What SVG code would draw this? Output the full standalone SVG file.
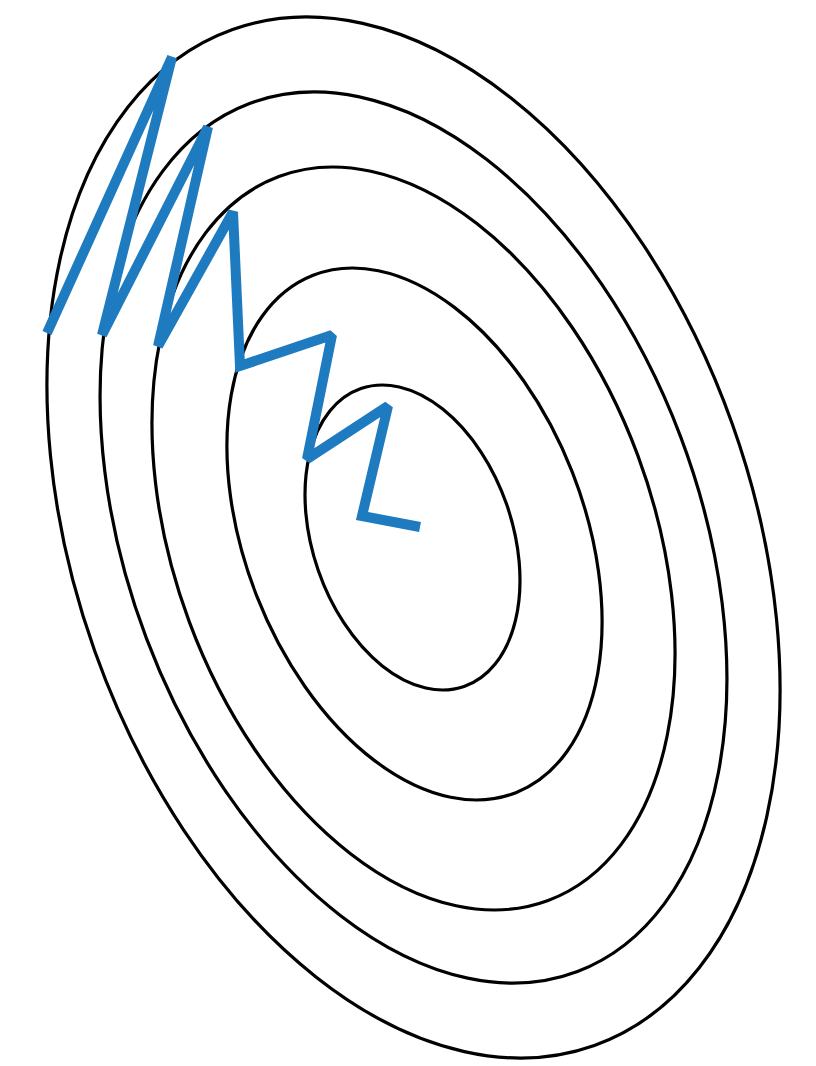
<svg xmlns="http://www.w3.org/2000/svg" width="816" height="1066" viewBox="0 0 816 1066">
<style>
.c{fill:none;stroke:#000;stroke-width:3.2}
.z{fill:none;stroke:#1f7bbf;stroke-width:10;stroke-linejoin:miter;stroke-miterlimit:2;stroke-linecap:butt}
</style>
<rect width="816" height="1066" fill="#fff"/>
<g id="contours">
<ellipse id="c5" class="c" cx="413.5" cy="537.5" rx="338.4" ry="539.2" transform="rotate(-19.6 413.5 537.5)"/>
<ellipse id="c4" class="c" cx="413.5" cy="537.5" rx="285.5" ry="463.9" transform="rotate(-20.7 413.5 537.5)"/>
<ellipse id="c3" class="c" cx="413.5" cy="538.5" rx="239.2" ry="386.2" transform="rotate(-20.4 413.5 538.5)"/>
<ellipse id="c2" class="c" cx="414.5" cy="534" rx="169.5" ry="277.8" transform="rotate(-21.4 414.5 534)"/>
<ellipse id="c1" class="c" cx="412.5" cy="537.5" rx="99.8" ry="157.6" transform="rotate(-19.1 412.5 537.5)"/>
</g>
<g id="path">
<polyline class="z" points="47,333 172,57 102,335 208,127 158,346 233,212 240,366 332,335 307,459 388,406 362,516 420,527"/>
</g>
</svg>
